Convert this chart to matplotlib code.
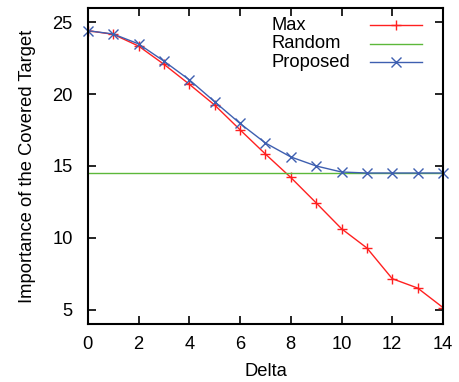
import matplotlib
matplotlib.use("Agg")
import matplotlib.pyplot as plt

plt.rcParams['font.family'] = ['Liberation Sans', 'DejaVu Sans']
plt.rcParams['font.size'] = 13.2

# data
delta = list(range(15))
max_vals = [24.42, 24.17, 23.35, 22.08, 20.69, 19.24, 17.52, 15.83, 14.2,
            12.43, 10.63, 9.29, 7.15, 6.5, 5.14]
proposed_vals = [24.42, 24.19, 23.5, 22.3, 21.0, 19.47, 17.96, 16.6, 15.63,
                 15.0, 14.58, 14.51, 14.51, 14.51, 14.51]
random_val = 14.52

red = '#ff2020'
green = '#5cb83a'
blue = '#3e5fb0'

fig = plt.figure(figsize=(4.6, 3.82), dpi=100)
ax = fig.add_axes([0.191, 0.152, 0.772, 0.827])

ax.plot(delta, max_vals, color=red, lw=1, marker='+', ms=7.5, mew=1)
ax.axhline(random_val, color=green, lw=1)
ax.plot(delta, proposed_vals, color=blue, lw=1, marker='x', ms=6.5, mew=1, clip_on=False)

ax.set_xlim(0, 14)
ax.set_ylim(4, 26)
ax.set_xticks(range(0, 15, 2))
ax.set_yticks([5, 10, 15, 20, 25])
ax.tick_params(direction='in', top=True, right=True, length=6, width=1.2)
ax.tick_params(axis='y', pad=11)
ax.tick_params(axis='x', pad=9)
for s in ax.spines.values():
    s.set_linewidth(1.5)

ax.set_xlabel('Delta', labelpad=7)
ax.set_ylabel('Importance of the Covered Target', labelpad=12)

# gnuplot-style key: label left-aligned, sample line to the right
key = [('Max', red, '+', 7.5), ('Random', green, None, 0), ('Proposed', blue, 'x', 6.5)]
for i, (lab, col, mk, ms) in enumerate(key):
    yk = 0.946 - i * 0.059
    ax.text(0.518, yk, lab, transform=ax.transAxes, ha='left', va='center')
    ax.plot([0.794, 0.941], [yk, yk], transform=ax.transAxes, color=col, lw=1)
    if mk:
        ax.plot([0.8675], [yk], transform=ax.transAxes, color=col, marker=mk, ms=ms, mew=1)

fig.savefig('out.png', dpi=100)
